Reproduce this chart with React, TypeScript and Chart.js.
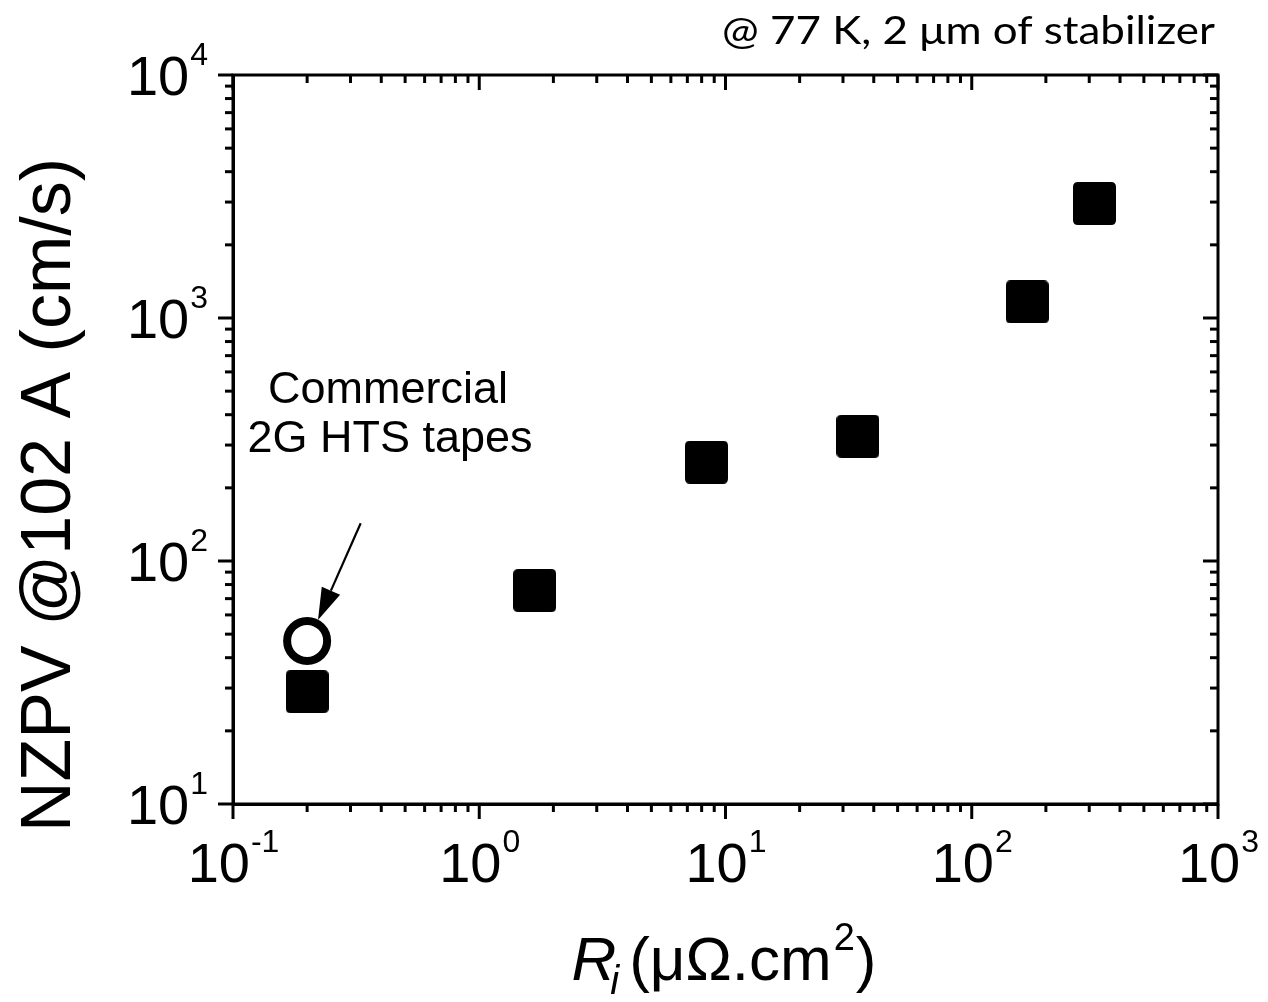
import React, { useEffect, useRef } from "react";
import { Chart, registerables } from "chart.js";

Chart.register(...registerables);

// ---- data ----
const squareRi = [0.2, 1.68, 8.37, 34.5, 168, 315];
const squareNzpv = [29.0, 75.6, 255, 326, 1164, 2958];
const commercialRi = [0.2];
const commercialNzpv = [46.9];

// ---- axes ----
const xRange = [0.1, 1000];
const yRange = [10, 10000];
const minorMultipliers = [2, 3, 4, 5, 6, 7, 8, 9];

// ---- texts ----
const topNote = "@ 77 K, 2 \u03bcm of stabilizer";
const yTitle = "NZPV @102 A (cm/s)";
const annotationLines = ["Commercial", "2G HTS tapes"];
// annotation anchors in data coordinates
const annotationAnchor = { x: 0.426, y: 447 };
const arrowFrom = { x: 0.33, y: 143 };
const arrowTo = { x: 0.2214, y: 57.2 };

const FONT = '"Liberation Sans", Arial, sans-serif';

function buildLogTicks(min: number, max: number) {
  const ticks: { value: number; major: boolean }[] = [];
  const e0 = Math.round(Math.log10(min));
  const e1 = Math.round(Math.log10(max));
  for (let e = e0; e <= e1; e++) {
    const d = Math.pow(10, e);
    ticks.push({ value: d, major: true });
    if (e < e1) minorMultipliers.forEach((m) => ticks.push({ value: m * d, major: false }));
  }
  return ticks;
}

function squareImage() {
  const s = 43;
  const c = document.createElement("canvas");
  c.width = s;
  c.height = s;
  const g = c.getContext("2d")!;
  const r = 5;
  g.fillStyle = "#000";
  g.beginPath();
  g.moveTo(r, 0);
  g.lineTo(s - r, 0);
  g.quadraticCurveTo(s, 0, s, r);
  g.lineTo(s, s - r);
  g.quadraticCurveTo(s, s, s - r, s);
  g.lineTo(r, s);
  g.quadraticCurveTo(0, s, 0, s - r);
  g.lineTo(0, r);
  g.quadraticCurveTo(0, 0, r, 0);
  g.closePath();
  g.fill();
  return c;
}

function drawPow(ctx: CanvasRenderingContext2D, value: number, x: number, baseline: number, align: "center" | "right") {
  const exp = String(Math.round(Math.log10(value)));
  const baseFont = `56px ${FONT}`;
  const supFont = `32px ${FONT}`;
  ctx.font = baseFont;
  const wb = ctx.measureText("10").width;
  ctx.font = supFont;
  const we = ctx.measureText(exp).width;
  const total = wb + we;
  const left = align === "center" ? x - total / 2 : x - total;
  ctx.textAlign = "left";
  ctx.textBaseline = "alphabetic";
  ctx.font = baseFont;
  ctx.fillText("10", left, baseline);
  ctx.font = supFont;
  ctx.fillText(exp, left + wb + 1, baseline - 30);
}

const decorPlugin = {
  id: "decor",
  afterDraw(chart: any) {
    const { ctx, chartArea: a } = chart;
    const xs = chart.scales.x;
    const ys = chart.scales.y;
    ctx.save();
    ctx.strokeStyle = "#000";
    ctx.fillStyle = "#000";
    ctx.lineWidth = 3;
    ctx.lineCap = "butt";
    const line = (x1: number, y1: number, x2: number, y2: number) => {
      ctx.beginPath();
      ctx.moveTo(x1, y1);
      ctx.lineTo(x2, y2);
      ctx.stroke();
    };
    // frame
    ctx.beginPath();
    ctx.rect(a.left, a.top, a.right - a.left, a.bottom - a.top);
    ctx.stroke();
    // x ticks
    for (const t of xs.ticks) {
      const px = xs.getPixelForValue(t.value);
      const len = t.major ? 15 : 8;
      line(px, a.bottom, px, a.bottom + len);
      line(px, a.top, px, a.top + len);
      if (t.major) drawPow(ctx, t.value, px, a.bottom + 78, "center");
    }
    // y ticks
    for (const t of ys.ticks) {
      const py = ys.getPixelForValue(t.value);
      const len = t.major ? 15 : 8;
      line(a.left - len, py, a.left, py);
      line(a.right - len, py, a.right, py);
      if (t.major) drawPow(ctx, t.value, a.left - 26, py + 20, "right");
    }

    // y title
    ctx.save();
    ctx.translate(70, 495);
    ctx.rotate(-Math.PI / 2);
    ctx.font = `70px ${FONT}`;
    ctx.textAlign = "center";
    ctx.textBaseline = "alphabetic";
    ctx.fillText(yTitle, 0, 0);
    ctx.restore();

    // x title: R_i (μΩ.cm²)
    {
      const big = `62px ${FONT}`;
      const bigI = `italic 62px ${FONT}`;
      const smallI = `italic 40px ${FONT}`;
      const small = `38px ${FONT}`;
      const base = 980;
      // [text, font, dyBaseline, dxBefore]
      const parts: [string, string, number, number][] = [
        ["R", bigI, 0, 0],
        ["i", smallI, 14, -6],
        ["(\u03bc\u03a9.cm", big, 0, 10],
        ["2", small, -30, 2],
        [")", big, 0, 1],
      ];
      let total = 0;
      const widths = parts.map(([s, f, , dx]) => {
        ctx.font = f;
        const w = ctx.measureText(s).width;
        total += w + dx;
        return w;
      });
      let x = 724 - total / 2;
      ctx.textAlign = "left";
      parts.forEach(([s, f, dy, dx], i) => {
        ctx.font = f;
        x += dx;
        ctx.fillText(s, x, base + dy);
        x += widths[i];
      });
    }

    // top note (fit to its measured extent)
    {
      ctx.font = `38px Lato, "Open Sans", sans-serif`;
      ctx.textAlign = "left";
      const w = ctx.measureText(topNote).width;
      const target = 493;
      ctx.save();
      ctx.translate(1215 - target, 44);
      ctx.scale(target / w, 1);
      ctx.fillText(topNote, 0, 0);
      ctx.restore();
    }

    // annotation
    const ax = xs.getPixelForValue(annotationAnchor.x);
    const ay = ys.getPixelForValue(annotationAnchor.y);
    ctx.font = `45px ${FONT}`;
    ctx.textAlign = "center";
    ctx.fillText(annotationLines[0], ax, ay);
    ctx.fillText(annotationLines[1], ax + 2, ay + 49);

    // arrow
    const x1 = xs.getPixelForValue(arrowFrom.x);
    const y1 = ys.getPixelForValue(arrowFrom.y);
    const x2 = xs.getPixelForValue(arrowTo.x);
    const y2 = ys.getPixelForValue(arrowTo.y);
    const ang = Math.atan2(y2 - y1, x2 - x1);
    const headLen = 32;
    const headHalf = 10;
    const bx = x2 - headLen * Math.cos(ang);
    const by = y2 - headLen * Math.sin(ang);
    ctx.lineWidth = 2.2;
    line(x1, y1, bx, by);
    ctx.beginPath();
    ctx.moveTo(x2, y2);
    ctx.lineTo(bx + headHalf * Math.sin(ang), by - headHalf * Math.cos(ang));
    ctx.lineTo(bx - headHalf * Math.sin(ang), by + headHalf * Math.cos(ang));
    ctx.closePath();
    ctx.fill();
    ctx.restore();
  },
};

export default function App() {
  const ref = useRef<HTMLCanvasElement>(null);
  useEffect(() => {
    if (!ref.current) return;
    const sq = squareImage();
    const chart = new Chart(ref.current, {
      type: "scatter",
      data: {
        datasets: [
          {
            label: "samples",
            data: squareRi.map((x, i) => ({ x, y: squareNzpv[i] })),
            pointStyle: sq as any,
            pointRadius: 22,
            backgroundColor: "#000",
            borderColor: "#000",
          },
          {
            label: "commercial",
            data: commercialRi.map((x, i) => ({ x, y: commercialNzpv[i] })),
            pointStyle: "circle",
            pointRadius: 20,
            borderWidth: 8,
            backgroundColor: "#fff",
            borderColor: "#000",
          },
        ],
      },
      options: {
        animation: false,
        responsive: false,
        events: [],
        layout: { padding: { left: 233, right: 50, top: 75, bottom: 198 } },
        plugins: { legend: { display: false }, tooltip: { enabled: false } },
        scales: {
          x: {
            type: "logarithmic",
            min: xRange[0],
            max: xRange[1],
            afterBuildTicks: (s: any) => {
              s.ticks = buildLogTicks(xRange[0], xRange[1]);
            },
            ticks: { display: false },
            grid: { display: false, drawTicks: false },
            border: { display: true, color: "#000", width: 3 },
          },
          y: {
            type: "logarithmic",
            min: yRange[0],
            max: yRange[1],
            afterBuildTicks: (s: any) => {
              s.ticks = buildLogTicks(yRange[0], yRange[1]);
            },
            ticks: { display: false },
            grid: { display: false, drawTicks: false },
            border: { display: true, color: "#000", width: 3 },
          },
        },
      },
      plugins: [decorPlugin],
    });
    return () => chart.destroy();
  }, []);
  return (
    <div style={{ position: "fixed", left: 0, top: 0, width: 1268, height: 1002, background: "#fff" }}>
      <canvas ref={ref} width={1268} height={1002} style={{ display: "block" }} />
    </div>
  );
}
